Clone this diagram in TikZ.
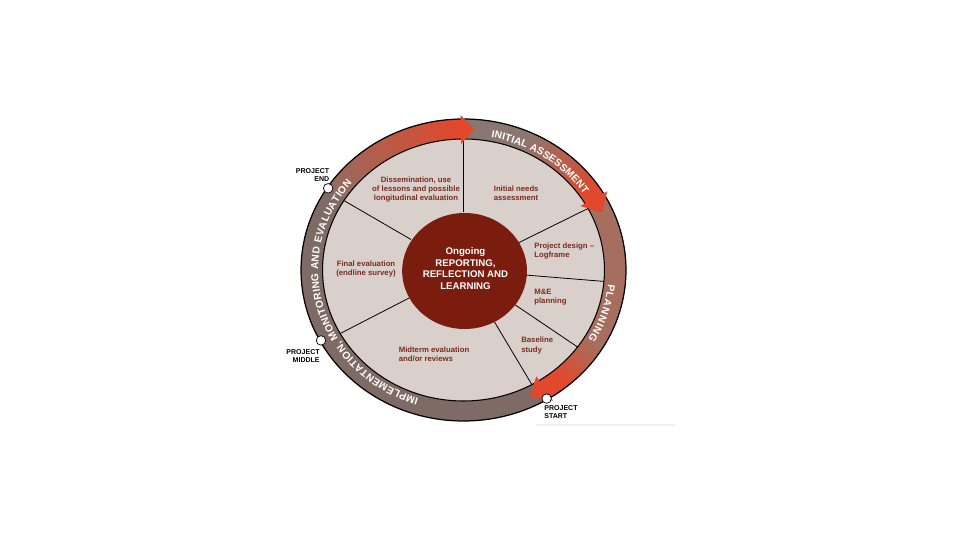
\documentclass[tikz,border=0pt]{standalone}
\usepackage{fontspec}
\setmainfont{Liberation Sans}
\usetikzlibrary{decorations.text}

\definecolor{ringgray}{HTML}{7E6B65}
\definecolor{ringtop}{HTML}{8A7771}
\definecolor{ringbrown}{HTML}{A66E5E}
\definecolor{ringleft}{HTML}{946C61}
\definecolor{arrowred}{HTML}{E2482B}
\definecolor{diskgray}{HTML}{D9D0CB}
\definecolor{corered}{HTML}{7A1D0E}
\definecolor{labelred}{HTML}{7B2B20}

\newcommand\ringfont{\color{white}\bfseries\fontsize{5.8}{6.5}\selectfont}

\tikzset{
  stage/.style={font=\fontsize{4.4}{5.3}\selectfont\bfseries, text=labelred, inner sep=0pt},
  milestone/.style={circle, draw, fill=white, line width=0.4pt, inner sep=0pt, minimum size=0.19cm},
  mlabel/.style={font=\fontsize{4}{4.4}\selectfont\bfseries, inner sep=0pt},
  ringtext/.style={decorate, decoration={text along path, text align={fit to path}, text={|\ringfont|#1}}}
}

\begin{document}
\begin{tikzpicture}
  \useasboundingbox (0,0) rectangle (19.2,10.8);

  \begin{scope}[shift={(9.27,5.40)}, xscale=1.076]
    \fill[ringgray] (0,0) circle [radius=3.02];

    % ring sections, shaded in small steps
    \foreach \i in {0,...,27} {
      \pgfmathsetmacro\a{147-2*\i}
      \pgfmathsetmacro\b{\a-2.4}
      \pgfmathsetmacro\p{100*\i/27}
      \fill[arrowred!\p!ringleft] (\a:3.02) arc[start angle=\a, end angle=\b, radius=3.02]
        -- (\b:2.62) arc[start angle=\b, end angle=\a, radius=2.62] -- cycle;
    }
    \foreach \i in {0,...,29} {
      \pgfmathsetmacro\a{90-2*\i}
      \pgfmathsetmacro\b{\a-2.4}
      \pgfmathsetmacro\p{max(0,min(100,(68-\a)*100/34))}
      \fill[arrowred!\p!ringtop] (\a:3.02) arc[start angle=\a, end angle=\b, radius=3.02]
        -- (\b:2.62) arc[start angle=\b, end angle=\a, radius=2.62] -- cycle;
    }
    \foreach \i in {0,...,43} {
      \pgfmathsetmacro\a{30-2*\i}
      \pgfmathsetmacro\b{\a-2.4}
      \pgfmathsetmacro\p{max(0,min(100,(-30-\a)*100/20))}
      \fill[arrowred!\p!ringbrown] (\a:3.02) arc[start angle=\a, end angle=\b, radius=3.02]
        -- (\b:2.62) arc[start angle=\b, end angle=\a, radius=2.62] -- cycle;
    }

    \fill[diskgray] (0,0) circle [radius=2.62];
    \draw[line width=0.7pt] (0,0) circle [radius=3.02];
    \draw[line width=0.6pt] (0,0) circle [radius=2.62];

    \foreach \t in {90,28,-5,-36,-61,-151,148}
      \draw[line width=0.45pt] (\t:1.15) -- (\t:2.62);

    \fill[corered] (0.02,-0.02) circle [radius=1.16];

    \fill[arrowred] (91:3.1) -- (91:2.52) -- (86:2.82) -- cycle;
    \fill[arrowred] (30.5:3.1) -- (30.5:2.52) -- (24:2.82) -- cycle;
    \fill[arrowred] (-57.5:3.1) -- (-57.5:2.52) -- (-64:2.82) -- cycle;

    \node[milestone] (pend) at (147:3.0) {};
    \node[milestone] (pmid) at (208:3.0) {};
    \node[milestone] (pstart) at (-59:3.0) {};
  \end{scope}

  \begin{scope}[shift={(9.27,5.40)}]
    \path[ringtext={INITIAL ASSESSMENT}] (79:2.905 and 2.70)
      arc[start angle=79, end angle=34, x radius=2.905, y radius=2.70];
    \path[ringtext={PLANNING}] (-6:2.905 and 2.70)
      arc[start angle=-6, end angle=-31, x radius=2.905, y radius=2.70];
    \path[ringtext={IMPLEMENTATION, MONITORING AND EVALUATION}] (-108:2.905 and 2.70)
      arc[start angle=-108, end angle=-220, x radius=2.905, y radius=2.70];
  \end{scope}

  \node[font=\fontsize{5.5}{6.5}\selectfont\bfseries, text=white, align=center, inner sep=0pt] (rrl)
    at (9.31,5.43) {Ongoing\\REPORTING,\\REFLECTION AND\\LEARNING};

  \node[stage, align=center] (dissem) at (8.32,7.01) {Dissemination, use\\of lessons and possible\\longitudinal evaluation};
  \node[stage, align=left, anchor=west] (needs) at (9.87,6.93) {Initial needs\\assessment};
  \node[stage, align=left, anchor=west] (design) at (10.68,5.78) {Project design –\\Logframe};
  \node[stage, align=left, anchor=west] (mande) at (10.68,4.86) {M\&E\\planning};
  \node[stage, align=left, anchor=west] (baseline) at (10.42,3.89) {Baseline\\study};
  \node[stage, align=left, anchor=west] (midterm) at (7.97,3.71) {Midterm evaluation\\and/or reviews};
  \node[stage, align=center] (final) at (7.32,5.42) {Final evaluation\\(endline survey)};

  \node[mlabel, align=right, anchor=south east] (pendlbl) at (6.59,7.17) {PROJECT\\END};
  \node[mlabel, align=right, anchor=south east] (pmidlbl) at (6.40,3.55) {PROJECT\\MIDDLE};
  \node[mlabel, align=left, anchor=south west] (pstartlbl) at (10.88,2.42) {PROJECT\\START};

  \draw[gray!12, line width=0.6pt] (10.72,2.30) -- (13.5,2.30);
\end{tikzpicture}
\end{document}
